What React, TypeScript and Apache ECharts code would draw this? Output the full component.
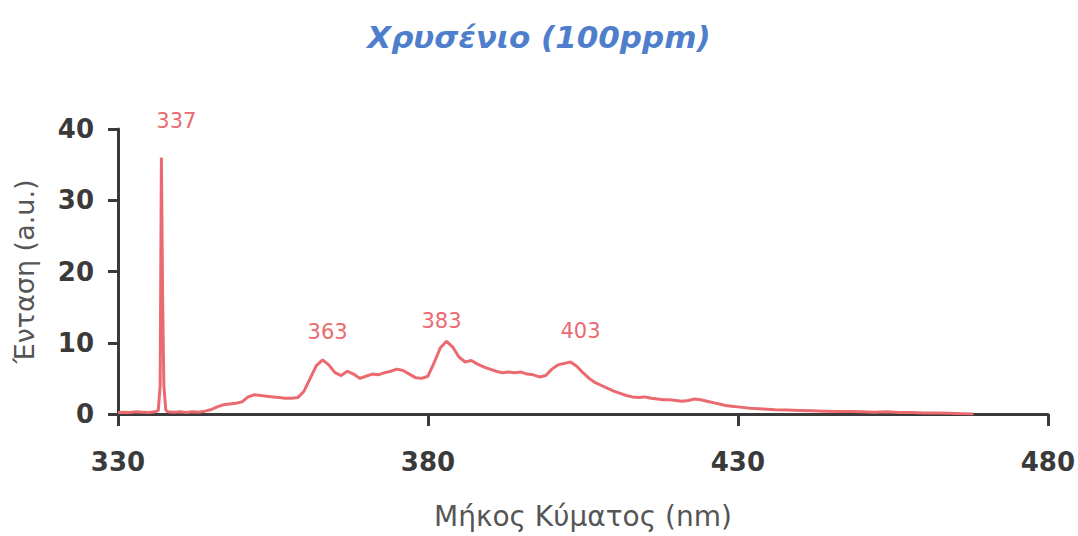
import React, { useEffect, useRef } from "react";
import * as echarts from "echarts";

// Emission spectrum of gold (100 ppm): wavelength in nm, intensity in a.u.
const wavelengths = [
  330, 331, 332, 333, 334, 335, 336, 336.5, 336.8, 337, 337.2, 337.4, 337.7, 338,
  339, 340, 341, 342, 343, 344, 345, 346, 347, 348, 349, 350, 351, 352, 353, 354,
  355, 356, 357, 358, 359, 360, 361, 362, 363, 364, 365, 366, 367, 368, 369, 370,
  371, 372, 373, 374, 375, 376, 377, 378, 379, 380, 381, 382, 383, 384, 385, 386,
  387, 388, 389, 390, 391, 392, 393, 394, 395, 396, 397, 398, 399, 400, 401, 402,
  403, 404, 405, 406, 407, 408, 409, 410, 411, 412, 413, 414, 415, 416, 417, 418,
  419, 420, 421, 422, 423, 424, 425, 426, 427, 428, 429, 430, 432, 434, 436, 438,
  440, 442, 444, 446, 448, 450, 452, 454, 456, 458, 460, 462, 464, 466, 468,
];
const intensities = [
  0.2, 0.25, 0.2, 0.3, 0.25, 0.2, 0.3, 0.5, 4, 36, 16, 4, 0.6, 0.3,
  0.25, 0.3, 0.2, 0.3, 0.25, 0.4, 0.6, 1.0, 1.3, 1.4, 1.5, 1.7, 2.4, 2.7, 2.6, 2.5,
  2.4, 2.3, 2.2, 2.2, 2.3, 3.2, 5.0, 6.8, 7.6, 6.9, 5.8, 5.4, 6.0, 5.6, 5.0, 5.3,
  5.6, 5.5, 5.8, 6.0, 6.3, 6.1, 5.6, 5.1, 5.0, 5.3, 7.2, 9.3, 10.2, 9.4, 8.0, 7.3,
  7.5, 7.0, 6.6, 6.3, 6.0, 5.8, 5.9, 5.8, 5.9, 5.6, 5.5, 5.2, 5.4, 6.3, 6.9, 7.1,
  7.3, 6.7, 5.8, 5.0, 4.4, 4.0, 3.6, 3.2, 2.9, 2.6, 2.4, 2.3, 2.4, 2.2, 2.1, 2.0,
  2.0, 1.9, 1.8, 1.9, 2.1, 2.0, 1.8, 1.6, 1.4, 1.2, 1.1, 1.0, 0.8, 0.7, 0.6, 0.55,
  0.5, 0.45, 0.4, 0.35, 0.35, 0.3, 0.25, 0.3, 0.2, 0.2, 0.15, 0.15, 0.1, 0.05, 0.0,
];

// Labelled emission peaks (nm) and where each label sits relative to its peak (px)
const peaks = [337, 363, 383, 403];
const peakLabelOffsets = [
  [15, -37],
  [5, -28],
  [-5, -20],
  [10, -31],
];

const xTicks = { min: 330, max: 480, interval: 50 };
const yTicks = { min: 0, max: 40, interval: 10 };

const TITLE = "Χρυσένιο (100ppm)";
const X_NAME = "Μήκος Κύματος (nm)";
const Y_NAME = "Ένταση (a.u.)";

const LINE_COLOR = "#ea6a70";
const AXIS_COLOR = "#3a3a3a";

export default function App() {
  const ref = useRef<HTMLDivElement>(null);

  useEffect(() => {
    if (!ref.current) return;
    const chart = echarts.init(ref.current, null, { renderer: "svg" });

    const seriesData = wavelengths.map((w, i) => [w, intensities[i]]);
    const peakMarks = peaks.map((p, i) => {
      const idx = wavelengths.indexOf(p);
      return {
        coord: [p, intensities[idx]],
        value: p,
        label: { offset: peakLabelOffsets[i] },
      };
    });

    chart.setOption({
      animation: false,
      backgroundColor: "#ffffff",
      title: {
        text: TITLE,
        left: "center",
        top: 16,
        textStyle: {
          fontFamily: "DejaVu Sans",
          fontStyle: "italic",
          fontWeight: "bold",
          fontSize: 31,
          color: "#4f7fcc",
        },
      },
      grid: { left: 118, right: 30, top: 129, bottom: 122 },
      xAxis: {
        type: "value",
        min: xTicks.min,
        max: xTicks.max,
        interval: xTicks.interval,
        name: X_NAME,
        nameLocation: "middle",
        nameGap: 88,
        nameTextStyle: {
          fontFamily: "DejaVu Sans",
          fontSize: 28,
          color: "#555555",
        },
        axisLine: { show: true, lineStyle: { color: AXIS_COLOR, width: 3 } },
        axisTick: { show: true, length: 12, lineStyle: { color: AXIS_COLOR, width: 3 } },
        axisLabel: {
          margin: 35,
          fontFamily: "DejaVu Sans",
          fontWeight: "bold",
          fontSize: 26,
          color: "#3a3a3a",
        },
        splitLine: { show: false },
      },
      yAxis: {
        type: "value",
        min: yTicks.min,
        max: yTicks.max,
        interval: yTicks.interval,
        name: Y_NAME,
        nameLocation: "middle",
        nameGap: 80,
        nameTextStyle: {
          fontFamily: "DejaVu Sans",
          fontSize: 27,
          color: "#555555",
        },
        axisLine: { show: true, lineStyle: { color: AXIS_COLOR, width: 3 } },
        axisTick: { show: true, length: 10, lineStyle: { color: AXIS_COLOR, width: 3 } },
        axisLabel: {
          margin: 24,
          fontFamily: "DejaVu Sans",
          fontWeight: "bold",
          fontSize: 26,
          color: "#3a3a3a",
        },
        splitLine: { show: false },
      },
      series: [
        {
          type: "line",
          data: seriesData,
          showSymbol: false,
          smooth: false,
          lineStyle: { color: LINE_COLOR, width: 3 },
          itemStyle: { color: LINE_COLOR },
          markPoint: {
            symbol: "circle",
            symbolSize: 1,
            itemStyle: { color: "rgba(0,0,0,0)" },
            label: {
              show: true,
              position: "inside",
              formatter: (p: any) => String(p.value),
              fontFamily: "DejaVu Sans",
              fontSize: 21,
              color: LINE_COLOR,
            },
            data: peakMarks,
          },
        },
      ],
    });

    return () => chart.dispose();
  }, []);

  return (
    <div
      ref={ref}
      style={{ position: "fixed", left: 0, top: 0, width: 1078, height: 536 }}
    />
  );
}
